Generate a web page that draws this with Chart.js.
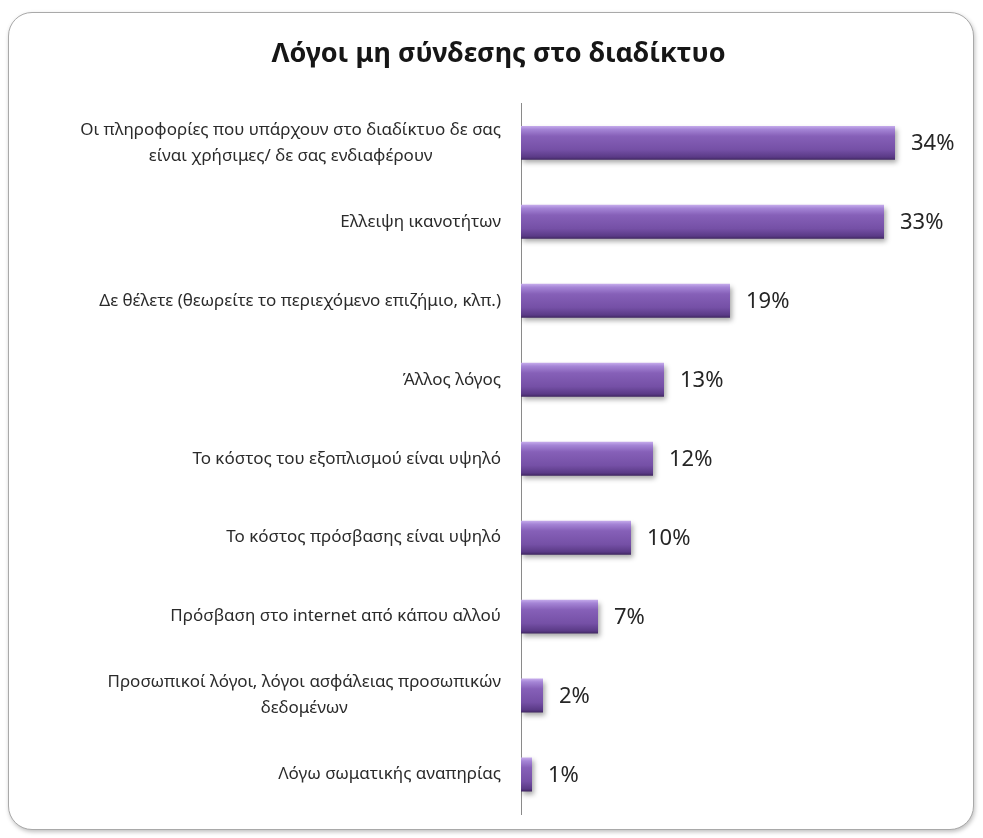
<!DOCTYPE html>
<html>
<head>
<meta charset="utf-8">
<script src="https://cdn.jsdelivr.net/npm/chart.js@4.4.1/dist/chart.umd.min.js"></script>
<style>
    html, body { margin: 0; padding: 0; background: #ffffff; }
    #wrap { position: relative; width: 983px; height: 838px; overflow: hidden; }
    #frame {
        position: absolute; left: 8px; top: 12px; width: 964px; height: 816px;
        border: 1px solid #a9a9a9; border-radius: 24px;
        box-shadow: 1px 2px 4px rgba(0, 0, 0, 0.25);
        background: #ffffff;
    }
    #reasonsChart { position: absolute; left: 0; top: 0; }
</style>
</head>
<body>
<div id="wrap">
    <div id="frame"></div>
    <canvas id="reasonsChart" width="983" height="838"></canvas>
</div>
<script>
const chartTitle = 'Λόγοι μη σύνδεσης στο διαδίκτυο';

const reasons = [
    ['Οι πληροφορίες που υπάρχουν στο διαδίκτυο δε σας', 'είναι χρήσιμες/ δε σας ενδιαφέρουν'],
    ['Ελλειψη ικανοτήτων'],
    ['Δε θέλετε (θεωρείτε το περιεχόμενο επιζήμιο, κλπ.)'],
    ['Άλλος λόγος'],
    ['Το κόστος του εξοπλισμού είναι υψηλό'],
    ['Το κόστος πρόσβασης είναι υψηλό'],
    ['Πρόσβαση στο internet από κάπου αλλού'],
    ['Προσωπικοί λόγοι, λόγοι ασφάλειας προσωπικών', 'δεδομένων'],
    ['Λόγω σωματικής αναπηρίας']
];

const percentages = [34, 33, 19, 13, 12, 10, 7, 2, 1];

const labelFont = '17px "Noto Sans", sans-serif';
const valueFont = '22px "Noto Sans", sans-serif';
const barThickness = 0.43;

function barGradient(context) {
    const chart = context.chart;
    const yScale = chart.scales.y;
    if (!yScale || context.dataIndex === undefined) {
        return '#7b59a9';
    }
    const center = yScale.getPixelForValue(context.dataIndex);
    const half = yScale.height / reasons.length * barThickness / 2;
    if (!isFinite(center) || !isFinite(half) || half <= 0) {
        return '#7b59a9';
    }
    const grad = chart.ctx.createLinearGradient(0, center - half, 0, center + half);
    grad.addColorStop(0, '#c6acec');
    grad.addColorStop(0.1, '#a585d6');
    grad.addColorStop(0.3, '#8660b8');
    grad.addColorStop(0.7, '#7550a6');
    grad.addColorStop(0.92, '#5a3a86');
    grad.addColorStop(1, '#3f2660');
    return grad;
}

// category labels: each block right aligned, wrapped lines centred inside it
const categoryLabels = {
    id: 'categoryLabels',
    afterDraw(chart) {
        const ctx = chart.ctx;
        const yScale = chart.scales.y;
        const rightEdge = chart.chartArea.left - 20;
        const lineHeight = 26;
        ctx.save();
        ctx.font = labelFont;
        ctx.fillStyle = '#2b2b2b';
        ctx.textAlign = 'center';
        ctx.textBaseline = 'middle';
        reasons.forEach((lines, i) => {
            const widest = Math.max(...lines.map(l => ctx.measureText(l).width));
            const cx = rightEdge - widest / 2;
            const cy = yScale.getPixelForValue(i);
            const startY = cy - (lines.length - 1) * lineHeight / 2;
            lines.forEach((line, k) => {
                ctx.fillText(line, cx, startY + k * lineHeight);
            });
        });
        ctx.restore();
    }
};

const valueLabels = {
    id: 'valueLabels',
    afterDatasetsDraw(chart) {
        const ctx = chart.ctx;
        const meta = chart.getDatasetMeta(0);
        ctx.save();
        ctx.font = valueFont;
        ctx.fillStyle = '#262626';
        ctx.textAlign = 'left';
        ctx.textBaseline = 'middle';
        meta.data.forEach((bar, i) => {
            ctx.fillText(percentages[i] + '%', bar.x + 16, bar.y + 1);
        });
        ctx.restore();
    }
};

const barShadow = {
    id: 'barShadow',
    beforeDatasetsDraw(chart) {
        const ctx = chart.ctx;
        ctx.save();
        ctx.shadowColor = 'rgba(0, 0, 0, 0.35)';
        ctx.shadowBlur = 5;
        ctx.shadowOffsetX = 2;
        ctx.shadowOffsetY = 3;
    },
    afterDatasetsDraw(chart) {
        chart.ctx.restore();
    }
};

const reasonsCtx = document.getElementById('reasonsChart').getContext('2d');
new Chart(reasonsCtx, {
    type: 'bar',
    data: {
        labels: reasons,
        datasets: [{
            data: percentages,
            backgroundColor: barGradient,
            borderWidth: 0,
            categoryPercentage: 1,
            barPercentage: barThickness
        }]
    },
    options: {
        indexAxis: 'y',
        responsive: false,
        animation: false,
        events: [],
        layout: {
            padding: { top: 38, right: 22, bottom: 24, left: 36 }
        },
        plugins: {
            legend: { display: false },
            tooltip: { enabled: false },
            title: {
                display: true,
                text: chartTitle,
                color: '#161616',
                font: { family: '"Noto Sans", sans-serif', size: 27, weight: 'bold' },
                padding: { top: 0, bottom: 33 }
            }
        },
        scales: {
            x: {
                display: false,
                min: 0,
                max: 40
            },
            y: {
                afterFit(scale) {
                    scale.width = 485;
                },
                ticks: { display: false },
                grid: { display: false, drawTicks: false },
                border: { display: true, color: '#8a8a8a', width: 1 }
            }
        }
    },
    plugins: [barShadow, valueLabels, categoryLabels]
});
</script>
</body>
</html>
